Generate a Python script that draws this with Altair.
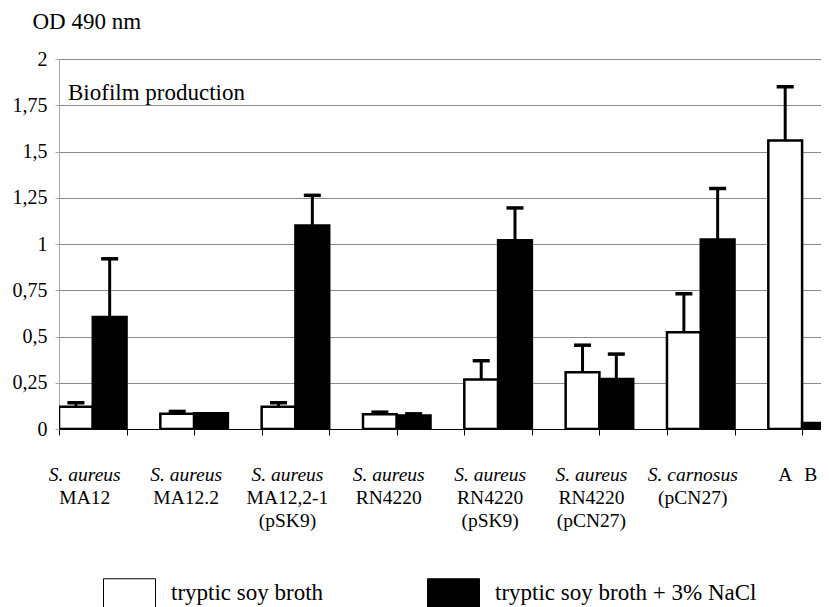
import altair as alt
import pandas as pd

# ---- data ----
series = ["tryptic soy broth", "tryptic soy broth + 3% NaCl"]
label_line1 = ["S. aureus", "S. aureus", "S. aureus", "S. aureus", "S. aureus", "S. aureus", "S. carnosus"]
label_rest = ["MA12", "MA12.2", "MA12,2-1\n(pSK9)", "RN4220", "RN4220\n(pSK9)", "RN4220\n(pCN27)", "(pCN27)"]
control_labels = ["A", "B"]

tsb = [0.12, 0.082, 0.12, 0.08, 0.267, 0.307, 0.523, 1.56]
tsb_err = [0.022, 0.013, 0.022, 0.011, 0.102, 0.146, 0.208, 0.29]
nacl = [0.605, 0.085, 1.10, 0.073, 1.02, 0.27, 1.024, 0.032]
nacl_err = [0.315, 0.0, 0.163, 0.009, 0.175, 0.135, 0.276, 0.0]

y_ticks = [0, 0.25, 0.5, 0.75, 1, 1.25, 1.5, 1.75, 2]

FONT = "Liberation Serif"
X_MAX = 22.56  # visible slots (the last bar is cut at the edge, as in the original)

# ---- tables built from the arrays ----
rows = []
for g in range(len(tsb)):
    for s, (vals, errs) in enumerate([(tsb, tsb_err), (nacl, nacl_err)]):
        slot = 3 * g + s
        rows.append({
            "x0": slot, "x1": slot + 1, "xm": slot + 0.5,
            "value": vals[g], "base": 0.0, "err": errs[g],
            "top": vals[g] + errs[g], "series": series[s],
        })
df = pd.DataFrame(rows)

lab = pd.DataFrame({
    "xc": [3 * g + 1 for g in range(len(label_line1))],
    "line1": label_line1,
    "rest": label_rest,
})
# control labels centred on their bars, kept inside the visible range
ctrl = pd.DataFrame({
    "xc": [min(3 * 7 + 0.5, X_MAX - 0.3), min(3 * 7 + 1.5, X_MAX - 0.3)],
    "t": control_labels,
})
note = pd.DataFrame({"t": ["Biofilm production"]})

x_scale = alt.Scale(domain=[0, X_MAX], nice=False, zero=False)
y_scale = alt.Scale(domain=[0, 2], nice=False)
YT = "OD 490 nm"

bars = alt.Chart(df).mark_bar(stroke="black", strokeWidth=2.5, clip=True).encode(
    x=alt.X("x0:Q", scale=x_scale, title=None,
            axis=alt.Axis(values=list(range(23)), labels=False, grid=False,
                          tickSize=6, tickColor="black", tickWidth=1,
                          domainColor="black", domainWidth=1.2)),
    x2="x1:Q",
    y=alt.Y("value:Q", scale=y_scale, title=YT,
            axis=alt.Axis(values=y_ticks,
                          labelExpr="replace(toString(datum.value), '.', ',')",
                          titleAngle=0, titleX=-27, titleY=-31,
                          titleAlign="left", titleBaseline="alphabetic",
                          titleFont=FONT, labelFont=FONT,
                          titleFontSize=23, titleFontWeight="normal",
                          labelFontSize=20, labelPadding=8,
                          gridColor="#8a8a8a", gridWidth=1,
                          domainColor="#a8a8a8", tickColor="#a8a8a8", tickSize=4)),
    y2="base:Q",
    fill=alt.Fill("series:N", scale=alt.Scale(domain=series, range=["white", "black"]),
                  legend=alt.Legend(title=None, orient="none", legendX=44, legendY=519,
                                    direction="horizontal", symbolType="square",
                                    symbolSize=2704, symbolStrokeColor="black",
                                    symbolStrokeWidth=1, labelFont=FONT, labelFontSize=23,
                                    labelOffset=15, columnPadding=101, labelLimit=500,
                                    labelBaseline="bottom", padding=0, labelColor="black")),
)

rules = alt.Chart(df).transform_filter("datum.err > 0").mark_rule(
    color="black", strokeWidth=3).encode(
    x=alt.X("xm:Q", scale=x_scale, title=None),
    y=alt.Y("value:Q", scale=y_scale, title=YT),
    y2="top:Q",
)

caps = alt.Chart(df).transform_filter("datum.err > 0").mark_tick(
    orient="horizontal", color="black", thickness=3.5, size=17, opacity=1).encode(
    x=alt.X("xm:Q", scale=x_scale, title=None),
    y=alt.Y("top:Q", scale=y_scale, title=YT),
)

species = alt.Chart(lab).mark_text(font=FONT, fontStyle="italic", fontSize=19.5,
                                   align="center", baseline="alphabetic", dx=-8,
                                   color="black").encode(
    x=alt.X("xc:Q", scale=x_scale, title=None),
    y=alt.value(422),
    text="line1:N",
)

rest = alt.Chart(lab).mark_text(font=FONT, fontSize=19.5, align="center",
                                baseline="alphabetic", dx=-8, lineBreak="\n",
                                lineHeight=23, color="black").encode(
    x=alt.X("xc:Q", scale=x_scale, title=None),
    y=alt.value(445),
    text="rest:N",
)

ctrl_text = alt.Chart(ctrl).mark_text(font=FONT, fontSize=19.5, align="center",
                                      baseline="alphabetic", color="black").encode(
    x=alt.X("xc:Q", scale=x_scale, title=None),
    y=alt.value(422),
    text="t:N",
)

note_text = alt.Chart(note).mark_text(font=FONT, fontSize=23, align="left",
                                      baseline="alphabetic", color="black").encode(
    x=alt.value(9),
    y=alt.value(41),
    text="t:N",
)

chart = alt.layer(bars, rules, caps, species, rest, ctrl_text, note_text).properties(
    width=762, height=370,
    autosize=alt.AutoSizeParams(type="none"),
    padding={"left": 51, "top": 51, "right": 0, "bottom": 178},
).configure(font=FONT).configure_view(strokeWidth=0).configure_axis(
    labelFont=FONT, titleFont=FONT, labelColor="black", titleColor="black"
).configure_text(font=FONT).configure_legend(labelFont=FONT)

chart.save("out.html", embed_options={"renderer": "svg", "actions": False})
